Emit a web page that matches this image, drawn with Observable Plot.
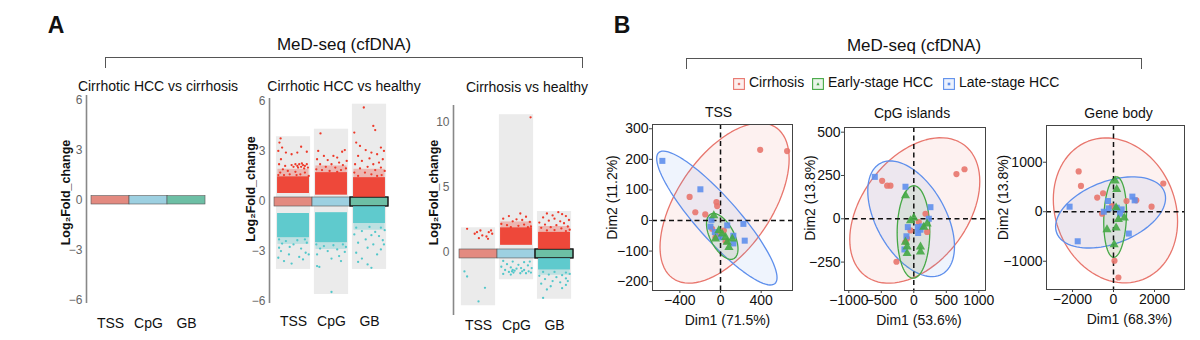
<!DOCTYPE html>
<html><head><meta charset="utf-8">
<script src="https://cdn.jsdelivr.net/npm/d3@7"></script>
<script src="https://cdn.jsdelivr.net/npm/@observablehq/plot@0.6"></script>
<style>
body{margin:0;background:#fff;}
#root{position:relative;width:1200px;height:340px;overflow:hidden;font-family:"Liberation Sans",Arial,Helvetica,sans-serif;color:#111;}
.t{position:absolute;white-space:nowrap;transform:translate(-50%,-50%);line-height:1;}
.br{position:absolute;border:1.2px solid #555;border-bottom:none;height:11px;box-sizing:border-box;}
</style></head><body><div id="root"></div>
<script>
// ---------------- DATA ----------------
const cats = ["TSS", "CpG", "GB"];
const compTitles = ["Cirrhotic HCC vs cirrhosis", "Cirrhotic HCC vs healthy", "Cirrhosis vs healthy"];
const headerText = "MeD-seq (cfDNA)";
const yTicksA = [-6, -3, 0, 3, 6];
const yTicksC = [0, 5, 10];
// central bars (log2FC range of the collapsed box)
const barA = [-0.25, 0.25];
const barB = [-0.33, 0.21];
const barC = [-0.46, 0.23];
// full range of each category (grey background)
const rangeB = [[-4.1, 3.85], [-5.6, 4.3], [-4.1, 5.8]];
const rangeC = [[-4.1, 1.9], [-2.1, 10.6], [-3.6, 3.15]];
// dense point bands: [category index, low, high, direction]
const denseB = [[1, 0.45, 1.45, "up"], [1, -2.2, -0.75, "down"], [2, 0.35, 1.7, "up"], [2, -2.5, -0.7, "down"], [3, 0.22, 1.4, "up"], [3, -1.35, -0.34, "down"]];
const denseC = [[2, 0.55, 1.9, "up"], [3, 0.24, 1.55, "up"], [3, -1.35, -0.47, "down"]];
// thinner fringe of those bands
const fringeB = [[1, 1.45, 1.9, "up"], [1, -2.6, -2.2, "down"], [2, 1.7, 2.1, "up"], [2, -2.9, -2.5, "down"], [3, 1.4, 1.9, "up"], [3, -1.75, -1.35, "down"]];
const fringeC = [[2, 1.9, 2.35, "up"], [3, 1.55, 2.0, "up"], [3, -1.75, -1.35, "down"]];
// sparse points: [jitter offset within category, log2FC]
const upB_TSS = [[-0.34,3.75],[-0.37,3.5],[-0.3,3.2],[-0.4,3.0],[-0.2,2.9],[0.2,3.25],[0.35,2.95],[-0.05,2.8],[0.1,2.9],[-0.33,2.5],[-0.38,2.2],[-0.22,2.1],[-0.05,2.15],[0.0,2.05],[0.05,2.2],[0.1,2.1],[0.15,2.2],[0.2,2.05],[0.25,2.15],[0.3,2.1],[0.35,2.2],[0.38,2.0],[0.12,2.0],[0.22,2.25],[0.28,1.95],[-0.28,1.9],[-0.15,1.8],[-0.35,1.7],[0.05,1.75],[0.3,1.7],[-0.1,1.6],[0.18,1.6],[-0.4,1.55],[0.4,1.5],[-0.25,1.55],[0.08,1.55]];
const downB_TSS = [[-0.38,-2.3],[-0.2,-2.4],[0.1,-2.35],[0.3,-2.3],[-0.3,-2.55],[0.0,-2.6],[0.35,-2.5],[-0.38,-2.8],[-0.1,-2.75],[0.2,-2.85],[-0.33,-3.0],[0.32,-3.1],[0.4,-3.2],[-0.12,-3.2],[0.15,-3.35],[-0.25,-3.6],[-0.05,-3.75],[0.25,-3.5],[-0.4,-3.4]];
const upB_CpG = [[-0.29,4.05],[-0.35,3.0],[0.35,3.05],[0.28,2.95],[-0.2,2.7],[0.05,2.7],[0.15,2.6],[-0.38,2.5],[0.4,2.4],[-0.1,2.45],[0.2,2.3],[-0.3,2.2],[0.0,2.2],[0.3,2.15],[-0.15,2.05],[0.1,2.0],[0.38,1.95],[-0.4,1.9],[-0.25,1.85],[0.25,1.85],[-0.05,1.8],[0.15,1.75]];
const downB_CpG = [[-0.4,-2.6],[-0.2,-2.7],[0.05,-2.65],[0.3,-2.6],[0.38,-2.75],[-0.3,-2.85],[0.15,-2.9],[-0.1,-3.0],[0.35,-3.05],[-0.38,-3.2],[0.2,-3.3],[0.0,-3.45],[-0.38,-3.9],[-0.32,-3.95],[0.25,-3.6],[0.0,-5.45]];
const upB_GB = [[-0.15,5.6],[0.1,4.5],[0.15,4.25],[-0.4,4.1],[-0.35,3.5],[-0.25,3.3],[0.3,3.2],[0.38,3.0],[-0.1,3.05],[0.05,2.9],[0.2,2.8],[-0.3,2.7],[0.0,2.55],[0.35,2.5],[-0.2,2.4],[0.25,2.3],[-0.38,2.2],[0.1,2.2],[-0.05,2.05],[0.3,2.0],[-0.25,1.95],[0.15,1.85],[0.4,1.8],[-0.4,1.7],[-0.12,1.7],[0.05,1.6],[0.32,1.55],[-0.3,1.5],[0.2,1.5]];
const downB_GB = [[-0.35,-1.6],[0.0,-1.55],[0.3,-1.6],[-0.2,-1.8],[0.15,-1.85],[0.4,-1.75],[-0.4,-2.0],[0.05,-2.05],[0.25,-2.1],[-0.1,-2.3],[0.35,-2.35],[-0.3,-2.5],[0.1,-2.6],[-0.05,-2.8],[0.3,-2.9],[-0.35,-3.1],[0.2,-3.2],[-0.2,-3.45],[-0.3,-3.65],[-0.05,-3.8],[0.05,-4.0],[0.38,-2.6]];
const upC_TSS = [[-0.3,1.82],[-0.1,1.44],[-0.04,1.56],[0.05,1.69],[0.1,1.31],[0.21,1.23],[0.27,1.56],[0.33,1.69],[0.36,1.44],[0.25,1.05],[0.01,1.1]];
const downC_TSS = [[-0.37,-1.46],[-0.3,-1.85],[0.17,-2.72],[0.0,-3.77]];
const upC_CpG = [[0.37,10.4],[0.1,3.0],[-0.2,2.8],[0.25,2.75],[-0.35,2.6],[0.0,2.55],[0.15,2.5],[-0.1,2.4],[0.35,2.35],[-0.4,2.2],[0.2,2.15],[-0.25,2.1],[0.05,2.05],[0.38,2.0],[-0.15,1.95],[0.3,1.95]];
const downC_CpG = [[-0.35,-0.65],[-0.1,-0.7],[0.2,-0.75],[0.35,-0.7],[-0.25,-0.9],[0.05,-0.95],[0.3,-1.0],[-0.4,-1.1],[-0.15,-1.15],[0.12,-1.2],[0.4,-1.2],[-0.3,-1.35],[-0.05,-1.4],[0.2,-1.35],[0.32,-1.45],[-0.2,-1.5],[-0.08,-1.55],[-0.12,-1.45],[0.1,-1.6],[0.25,-1.6],[-0.35,-1.65],[0.38,-1.55],[-0.1,-1.35],[0.0,-1.25],[-0.15,-1.7],[0.15,-1.45]];
const upC_GB = [[0.1,3.1],[-0.2,3.0],[0.2,2.95],[-0.05,2.85],[0.3,2.8],[-0.3,2.7],[0.0,2.6],[0.38,2.5],[-0.15,2.45],[0.15,2.4],[-0.4,2.3],[0.25,2.25],[-0.25,2.15],[0.05,2.1],[0.35,2.0],[-0.1,1.95],[-0.35,1.9],[0.18,1.85],[0.4,1.75],[-0.2,1.7],[0.0,1.72],[0.3,1.65]];
const downC_GB = [[-0.3,-1.5],[0.0,-1.5],[0.3,-1.55],[-0.15,-1.7],[0.2,-1.75],[0.4,-1.65],[-0.4,-1.8],[0.05,-1.9],[0.3,-2.0],[-0.25,-2.05],[-0.05,-2.2],[0.15,-2.3],[0.35,-2.2],[-0.35,-2.4],[-0.1,-2.6],[0.2,-2.75],[0.3,-2.5],[-0.2,-2.85],[-0.3,-3.5]];

// PCA panel B
const groups = ["Cirrhosis", "Early-stage HCC", "Late-stage HCC"];
const pcaTitles = ["TSS", "CpG islands", "Gene body"];
const dim1Labels = ["Dim1 (71.5%)", "Dim1 (53.6%)", "Dim1 (68.3%)"];
const dim2Labels = ["Dim2 (11.2%)", "Dim2 (13.8%)", "Dim2 (13.8%)"];
const tssTicksX = [-400, 0, 400], tssTicksY = [-200, -100, 0, 100, 200, 300];
const cpgTicksX = [-1000, -500, 0, 500, 1000], cpgTicksY = [-250, 0, 250, 500];
const geneTicksX = [-2000, 0, 2000], geneTicksY = [-1000, 0, 1000];
const tssCirrhosis = [[390,231],[655,227],[-304,77],[-248,27],[-40,60],[-33,47],[-150,20],[-83,-27],[-50,-55],[50,-68],[33,-33],[-20,-45]];
const tssEarly = [[-66,16],[-17,-33],[17,-44],[50,-55],[83,-88],[66,-71],[-50,-60],[116,-60]];
const tssLate = [[-572,195],[-198,102],[-89,2],[-99,-20],[-56,-38],[66,-16],[225,-11],[238,-66],[126,-50],[126,-75],[0,-55]];
const cpgCirrhosis = [[656,258],[780,286],[-487,219],[-410,191],[-359,191],[-267,-248],[180,29],[205,-76],[77,-19],[-103,-114],[-128,-134],[-51,-67]];
const cpgEarly = [[-128,134],[0,6],[-51,-10],[205,-29],[154,-48],[-128,-134],[-103,-162],[-103,-200],[103,-162],[103,-191]];
const cpgLate = [[-600,242],[-128,185],[256,67],[231,0],[-92,-48],[62,-48],[103,-63],[67,-82],[-113,-101],[-144,-177],[128,-44]];
const geneCirrhosis = [[-1698,814],[-1587,522],[-794,285],[-508,373],[-556,-41],[635,217],[1111,230],[1857,102],[2428,570],[48,-990],[238,-1329],[-79,115]];
const geneEarly = [[79,624],[159,454],[127,81],[238,-156],[524,-122],[-317,-359],[127,-325],[32,-664]];
const geneLate = [[-2142,102],[-1746,-597],[-270,217],[-238,68],[-476,0],[397,47],[317,-41],[920,305],[1032,230],[746,-441],[159,81]];
// confidence ellipses: [centre x, centre y, x half-extent, y half-extent, correlation]
const tssEllipses = [[40,57,635,262,0.55],[17,-52,155,75,-0.55],[-36,8,592,219,-0.89]];
const cpgEllipses = [[15,48,1000,420,0.4],[-5,-76,251,267,0.02],[-41,0,667,334,-0.48]];
const geneEllipses = [[95,27,3031,1464,-0.15],[79,-108,555,813,0.12],[-143,-14,2682,719,0.4]];

// ---------------- STYLE ----------------
const FONT = '"Liberation Sans", Arial, Helvetica, sans-serif';
const barColors = ["#E38A80", "#9DD0E1", "#6DBFA5"];
const upColor = "#EE3A2A", downColor = "#52C7CA";
const grpColors = ["#E8766D", "#45A845", "#5E8FEC"];
const grpSymbols = ["circle", "triangle", "square"];

const root = document.getElementById("root");
function txt(s, x, y, st = {}) {
  const d = document.createElement("div");
  d.className = "t"; d.textContent = s;
  d.style.left = x + "px"; d.style.top = y + "px";
  Object.assign(d.style, st);
  root.appendChild(d);
}
function put(node, left, width) {
  const d = document.createElement("div");
  d.style.position = "absolute"; d.style.left = left + "px"; d.style.top = "0px";
  d.style.width = width + "px"; d.style.height = "340px"; d.style.overflow = "hidden";
  d.appendChild(node); root.appendChild(d);
}
function bracket(x1, x2, y) {
  const d = document.createElement("div");
  d.className = "br"; d.style.left = x1 + "px"; d.style.top = y + "px"; d.style.width = (x2 - x1) + "px";
  root.appendChild(d);
}

// ---------------- PANEL A ----------------
function jit(arrs, c) { return arrs.flatMap((a, i) => a.map(([dx, y]) => ({x: i + 1 + dx, y, c}))); }
function strip(cfg) {
  const marks = [];
  if (cfg.range) marks.push(Plot.rect(cfg.range, {x1: (d, i) => i + 1 - 0.45, x2: (d, i) => i + 1 + 0.45, y1: d => d[0], y2: d => d[1], fill: "#EBEBEB"}));
  marks.push(Plot.rect(cats, {x1: (d, i) => i + 0.5, x2: (d, i) => i + 1.5, y1: () => cfg.bar[0], y2: () => cfg.bar[1], fill: (d, i) => barColors[i], stroke: "#555", strokeWidth: 0.6}));
  if (cfg.boldGB) marks.push(Plot.rect([2], {x1: d => d + 0.5, x2: d => d + 1.5, y1: () => cfg.bar[0], y2: () => cfg.bar[1], fill: "none", stroke: "#111", strokeWidth: 1.3}));
  if (cfg.fringe) marks.push(Plot.rect(cfg.fringe, {x1: d => d[0] - 0.41, x2: d => d[0] + 0.41, y1: d => d[1], y2: d => d[2], fill: d => d[3] === "up" ? upColor : downColor, fillOpacity: 0.3}));
  if (cfg.dense) marks.push(Plot.rect(cfg.dense, {x1: d => d[0] - 0.42, x2: d => d[0] + 0.42, y1: d => d[1], y2: d => d[2], fill: d => d[3] === "up" ? upColor : downColor, fillOpacity: 0.92}));
  if (cfg.up) marks.push(Plot.dot(jit(cfg.up, upColor).concat(jit(cfg.down, downColor)), {x: "x", y: "y", r: 1.15, fill: "c"}));
  marks.push(Plot.ruleX([cfg.xd[0]], {stroke: "#888", strokeWidth: 1.6}));
  marks.push(Plot.axisY({ticks: cfg.yTicks, tickSize: 0, tickPadding: 4, fill: "#666", fontSize: 12, label: null, tickFormat: d3.format("d")}));
  marks.push(Plot.axisX({ticks: [1, 2, 3], tickFormat: d => cats[d - 1], tickSize: 0, tickPadding: cfg.xPad, fontSize: 14, fill: "#111", label: null}));
  marks.push(Plot.text(["Log\u2082Fold_change"], {text: d => d, frameAnchor: "left", dx: cfg.ylx, dy: cfg.yly, rotate: -90, textAnchor: "middle", lineAnchor: "middle", fontWeight: "bold", fontSize: 12.5, fill: "#111"}));
  return Plot.plot({
    width: cfg.width, height: 340, marginLeft: cfg.ml, marginRight: 0, marginTop: cfg.mt, marginBottom: cfg.mb,
    x: {domain: cfg.xd}, y: {domain: cfg.yd}, color: {type: "identity"},
    style: {background: "transparent", fontFamily: FONT, fontSize: "12px", overflow: "visible"},
    marks
  });
}

put(strip({width: 215, ml: 86, mt: 95, mb: 37, xd: [0.368, 3.763], yd: [-6.2, 6.3], bar: barA, yTicks: yTicksA, xPad: 15, ylx: -21, yly: -7}), 0, 215);
put(strip({width: 210, ml: 79, mt: 98, mb: 37, xd: [0.368, 3.816], yd: [-6.14, 6.14], bar: barB, yTicks: yTicksA, xPad: 13, ylx: -19, yly: -12, range: rangeB, dense: denseB, fringe: fringeB, boldGB: true,
  up: [upB_TSS, upB_CpG, upB_GB], down: [downB_TSS, downB_CpG, downB_GB]}), 190, 210);
put(strip({width: 210, ml: 73, mt: 105, mb: 25, xd: [0.342, 3.947], yd: [-4.85, 11.31], bar: barC, yTicks: yTicksC, xPad: 5, ylx: -20, yly: -18, range: rangeC, dense: denseC, fringe: fringeC, boldGB: true,
  up: [upC_TSS, upC_CpG, upC_GB], down: [downC_TSS, downC_CpG, downC_GB]}), 380, 210);

txt("A", 56, 25, {fontSize: "23px", fontWeight: "bold"});
txt(headerText, 344, 44, {fontSize: "17px"});
bracket(105, 583, 57);
txt(compTitles[0], 158, 86, {fontSize: "14px"});
txt(compTitles[1], 344, 86, {fontSize: "14px"});
txt(compTitles[2], 527, 87, {fontSize: "14px"});

// ---------------- PANEL B ----------------
function ellipse(e) {
  const [cx, cy, rx, ry, rho] = e, s = Math.sqrt(1 - rho * rho), out = [];
  for (let k = 0; k <= 90; k++) { const t = 2 * Math.PI * k / 90; out.push([cx + rx * Math.cos(t), cy + ry * (rho * Math.cos(t) + s * Math.sin(t))]); }
  return out;
}
function pca(cfg) {
  const marks = [];
  [0, 2, 1].forEach(g => marks.push(Plot.line(ellipse(cfg.ell[g]), {x: d => d[0], y: d => d[1], curve: "linear-closed", fill: grpColors[g], fillOpacity: 0.1, stroke: grpColors[g], strokeWidth: 1.3, clip: true})));
  marks.push(Plot.ruleX([0], {stroke: "#111", strokeWidth: 1.5, strokeDasharray: "5,3.5"}));
  marks.push(Plot.ruleY([0], {stroke: "#111", strokeWidth: 1.5, strokeDasharray: "5,3.5"}));
  [0, 2, 1].forEach(g => marks.push(Plot.dot(cfg.pts[g], {x: d => d[0], y: d => d[1], symbol: grpSymbols[g], r: grpSymbols[g] === "circle" ? 3.1 : 3.4, fill: grpColors[g], fillOpacity: 0.9, clip: true})));
  marks.push(Plot.frame({stroke: "#444", strokeWidth: 1}));
  marks.push(Plot.axisX({ticks: cfg.xt, tickSize: 3, tickPadding: 2, fontSize: 14, fill: "#111", stroke: "#444", label: null, tickFormat: d3.format("d")}));
  marks.push(Plot.axisY({ticks: cfg.yt, tickSize: 3, tickPadding: 1, fontSize: 14, fill: "#111", stroke: "#444", label: null, tickFormat: d3.format("d")}));
  marks.push(Plot.text([cfg.title], {text: d => d, frameAnchor: "top", dy: cfg.tdy, dx: cfg.tdx, lineAnchor: "middle", fontSize: 14, fill: "#111"}));
  marks.push(Plot.text([cfg.xl], {text: d => d, frameAnchor: "bottom", dy: 30, dx: cfg.xdx, lineAnchor: "middle", fontSize: 14, fill: "#111"}));
  marks.push(Plot.text([cfg.yl], {text: d => d, frameAnchor: "left", dx: cfg.ydx, dy: cfg.ydy, rotate: -90, textAnchor: "middle", lineAnchor: "middle", fontSize: 14, fill: "#111"}));
  return Plot.plot({
    width: cfg.width, height: 340, marginLeft: cfg.ml, marginRight: cfg.mr, marginTop: cfg.mt, marginBottom: cfg.mb,
    x: {domain: cfg.xd}, y: {domain: cfg.yd},
    style: {background: "transparent", fontFamily: FONT, fontSize: "14px", overflow: "visible"},
    marks
  });
}
put(pca({width: 205, ml: 57, mr: 8, mt: 124, mb: 50, xd: [-669, 708], yd: [-229, 314], xt: tssTicksX, yt: tssTicksY,
  ell: tssEllipses, pts: [tssCirrhosis, tssEarly, tssLate], title: pcaTitles[0], tdy: -12, tdx: -4, xl: dim1Labels[0], xdx: 5, yl: dim2Labels[0], ydx: -40, ydy: -10}), 595, 205);
put(pca({width: 191, ml: 49, mr: 1, mt: 127, mb: 50, xd: [-1066, 1103], yd: [-414, 527], xt: cpgTicksX, yt: cpgTicksY,
  ell: cpgEllipses, pts: [cpgCirrhosis, cpgEarly, cpgLate], title: pcaTitles[1], tdy: -14, tdx: -3, xl: dim1Labels[1], xdx: 4, yl: dim2Labels[1], ydx: -34, ydy: -11}), 795, 202);
put(pca({width: 200, ml: 56, mr: 6, mt: 125, mb: 51, xd: [-3268, 3463], yd: [-1571, 1742], xt: geneTicksX, yt: geneTicksY,
  ell: geneEllipses, pts: [geneCirrhosis, geneEarly, geneLate], title: pcaTitles[2], tdy: -12, tdx: 3, xl: dim1Labels[2], xdx: 14, yl: dim2Labels[2], ydx: -43, ydy: -10}), 990, 200);

txt("B", 622, 25, {fontSize: "23px", fontWeight: "bold"});
txt(headerText, 914, 45, {fontSize: "17px"});
bracket(686, 1142, 58);

// legend
const legendX = [733, 812, 943];
groups.forEach((g, i) => {
  const c = grpColors[i];
  const glyph = grpSymbols[i] === "circle" ? `<circle cx="6" cy="6" r="1.3" fill="${c}"/>`
    : grpSymbols[i] === "triangle" ? `<path d="M6,4.3L7.6,7.3L4.4,7.3Z" fill="${c}"/>`
    : `<rect x="4.7" y="4.7" width="2.6" height="2.6" fill="${c}"/>`;
  const d = document.createElement("div");
  d.style.cssText = `position:absolute;left:${legendX[i]}px;top:76px;width:12px;height:12px;`;
  d.innerHTML = `<svg width="12" height="12"><rect x="0.6" y="0.6" width="10.8" height="10.8" fill="${c}" fill-opacity="0.12" stroke="${c}" stroke-width="1.1"/>${glyph}</svg>`;
  root.appendChild(d);
  const t = document.createElement("div");
  t.style.cssText = `position:absolute;left:${legendX[i] + 16}px;top:74px;font-size:14px;white-space:nowrap;line-height:16px;`;
  t.textContent = g;
  root.appendChild(t);
});
</script></body></html>
